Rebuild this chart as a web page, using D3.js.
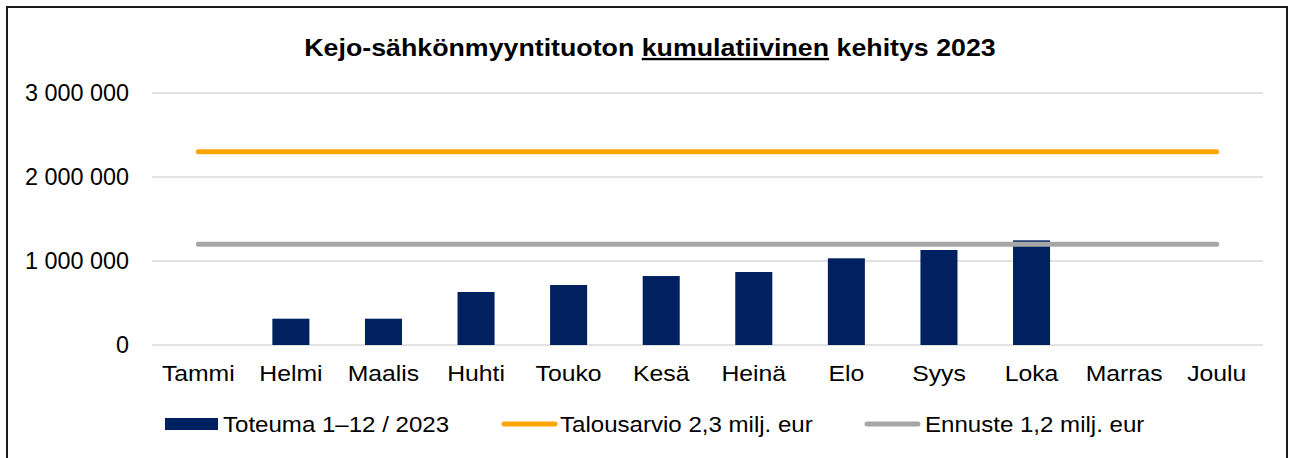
<!DOCTYPE html>
<html>
<head>
<meta charset="utf-8">
<script src="https://cdn.jsdelivr.net/npm/d3@7"></script>
<style>
  body { margin: 0; background: #fff; }
  svg { display: block; font-family: "Liberation Sans", Arial, sans-serif; }
</style>
</head>
<body>
<div id="chart"></div>
<script>
// data
const months = ["Tammi", "Helmi", "Maalis", "Huhti", "Touko", "Kesä", "Heinä", "Elo", "Syys", "Loka", "Marras", "Joulu"]
const actual = [0, 313000, 313000, 631000, 714000, 821000, 869000, 1032000, 1131000, 1246000, null, null]
const budget = [2300000, 2300000, 2300000, 2300000, 2300000, 2300000, 2300000, 2300000, 2300000, 2300000, 2300000, 2300000]
const forecast = [1200000, 1200000, 1200000, 1200000, 1200000, 1200000, 1200000, 1200000, 1200000, 1200000, 1200000, 1200000]
const yTicks = [0, 1000000, 2000000, 3000000]
const seriesNames = ["Toteuma 1–12 / 2023", "Talousarvio 2,3 milj. eur", "Ennuste 1,2 milj. eur"]

const width = 1293, height = 458
const plot = {left: 152, right: 1263, top: 93, bottom: 345}
const colours = {bar: "#002060", budget: "#FFA500", forecast: "#A6A6A6", grid: "#D9D9D9"}
// the original picture is a bit stretched sideways, so text gets a horizontal scale
const stretch = 1.1

const svg = d3.select("#chart").append("svg")
    .attr("width", width)
    .attr("height", height)

// outer frame
svg.append("rect")
    .attr("x", 7).attr("y", 7)
    .attr("width", 1280).attr("height", 460)
    .attr("fill", "none")
    .attr("stroke", "#1a1a1a")
    .attr("stroke-width", 2)

svg.append("text")
    .attr("transform", `translate(650, 56) scale(1.13, 1)`)
    .attr("text-anchor", "middle")
    .attr("font-size", 23.7)
    .attr("font-weight", "bold")
    .call(t => {
        t.append("tspan").text("Kejo-sähkönmyyntituoton ")
        t.append("tspan").attr("text-decoration", "underline").text("kumulatiivinen")
        t.append("tspan").text(" kehitys 2023")
    })

const x = d3.scaleBand()
    .domain(months)
    .range([plot.left, plot.right])
    .paddingInner(0.6)
    .paddingOuter(0.3)

const y = d3.scaleLinear()
    .domain([0, 3000000])
    .range([plot.bottom, plot.top])

// gridlines
svg.append("g")
    .selectAll("line")
    .data(yTicks)
    .join("line")
    .attr("x1", plot.left).attr("x2", plot.right)
    .attr("y1", d => y(d)).attr("y2", d => y(d))
    .attr("stroke", colours.grid)
    .attr("stroke-width", 1.5)

const fmt = d => d3.format(",")(d).replace(/,/g, " ")

const yAxis = svg.append("g")
    .attr("transform", `translate(${plot.left}, 0)`)
    .call(d3.axisLeft(y).tickValues(yTicks).tickFormat(fmt).tickSize(0).tickPadding(23))
yAxis.select(".domain").remove()
yAxis.selectAll("text").attr("font-size", 23.4).attr("fill", "#000").attr("font-family", null)

const xAxis = svg.append("g")
    .attr("transform", `translate(0, ${plot.bottom})`)
    .call(d3.axisBottom(x).tickSize(0).tickPadding(20))
xAxis.select(".domain").remove()
xAxis.selectAll("text")
    .attr("font-size", 22.5)
    .attr("fill", "#000")
    .attr("font-family", null)
    .attr("transform", `scale(${stretch}, 1)`)

// bars
svg.append("g")
    .selectAll("rect")
    .data(months.map((m, i) => ({m, v: actual[i]})).filter(d => d.v))
    .join("rect")
    .attr("x", d => x(d.m))
    .attr("width", x.bandwidth())
    .attr("y", d => y(d.v))
    .attr("height", d => y(0) - y(d.v))
    .attr("fill", colours.bar)

const line = d3.line()
    .x((d, i) => x(months[i]) + x.bandwidth() / 2)
    .y(d => y(d))

svg.append("path")
    .datum(budget)
    .attr("d", line)
    .attr("fill", "none")
    .attr("stroke", colours.budget)
    .attr("stroke-width", 5)
    .attr("stroke-linecap", "round")

svg.append("path")
    .datum(forecast)
    .attr("d", line)
    .attr("fill", "none")
    .attr("stroke", colours.forecast)
    .attr("stroke-width", 5)
    .attr("stroke-linecap", "round")

// legend
const legendY = 424
const legend = svg.append("g")
legend.append("rect")
    .attr("x", 165).attr("y", legendY - 6)
    .attr("width", 53).attr("height", 12)
    .attr("fill", colours.bar)
legend.append("line")
    .attr("x1", 504).attr("x2", 555)
    .attr("y1", legendY).attr("y2", legendY)
    .attr("stroke", colours.budget).attr("stroke-width", 5).attr("stroke-linecap", "round")
legend.append("line")
    .attr("x1", 867).attr("x2", 918)
    .attr("y1", legendY).attr("y2", legendY)
    .attr("stroke", colours.forecast).attr("stroke-width", 5).attr("stroke-linecap", "round")

legend.selectAll("text")
    .data(seriesNames)
    .join("text")
    .attr("transform", (d, i) => `translate(${[223, 560, 925][i]}, ${legendY + 8}) scale(1.08, 1)`)
    .attr("font-size", 22.3)
    .text(d => d)
</script>
</body>
</html>
